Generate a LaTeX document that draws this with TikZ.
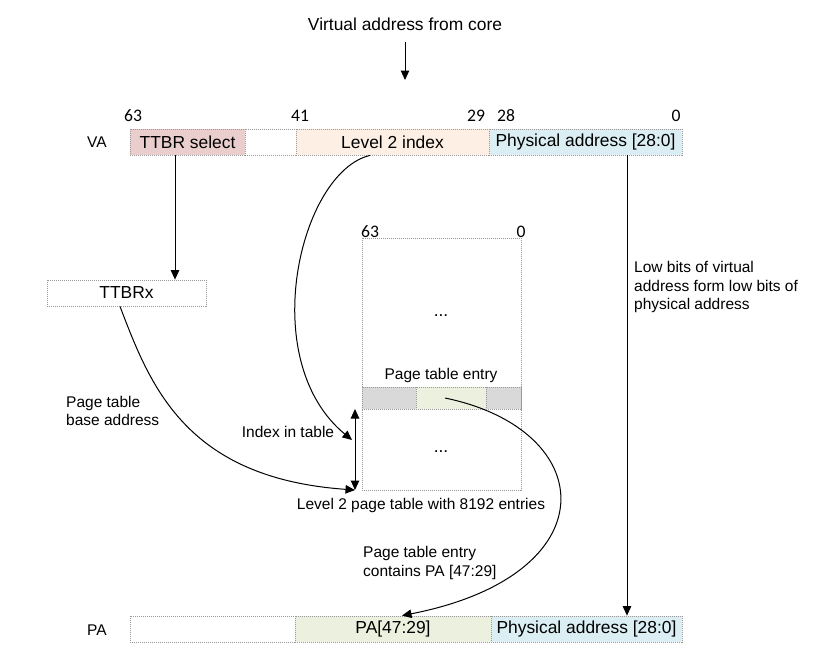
\documentclass[tikz,border=0pt]{standalone}
\usepackage{fontspec}
\setmainfont{Liberation Sans}
\newfontfamily\digitfont{Carlito}
\usetikzlibrary{arrows.meta}
\definecolor{ttbrcol}{HTML}{EACDCD}
\definecolor{idxcol}{HTML}{FDEFE4}
\definecolor{physcol}{HTML}{DAEEF3}
\definecolor{pacol}{HTML}{EBF1DE}
\definecolor{greycol}{HTML}{D9D9D9}
\tikzset{
  cell/.style={draw=gray!80, line width=0.8pt, dash pattern=on 1pt off 1pt,
    inner sep=0pt, minimum height=#1, font=\fontsize{17.4}{20}\selectfont},
  cell/.default=26pt,
  lbl/.style={inner sep=0pt, font=\fontsize{15.5}{18.8}\selectfont, align=left},
  biglbl/.style={inner sep=0pt, font=\fontsize{17.4}{20}\selectfont},
  num/.style={inner sep=0pt, font=\digitfont\fontsize{17.6}{20}\selectfont},
  conn/.style={line width=1pt, -{Triangle[length=9.5pt,width=8.5pt]}},
  conn2/.style={line width=1pt, {Triangle[length=9.5pt,width=8.5pt]}-{Triangle[length=9.5pt,width=8.5pt]}},
}
\begin{document}
\begin{tikzpicture}[x=1pt,y=-1pt]
\useasboundingbox (0,0) rectangle (820,659);
% helper columns
\coordinate (x175) at (175,0);
\coordinate (x370) at (370,0);
\coordinate (x120) at (120,0);
\coordinate (x627) at (627,0);
\coordinate (x402) at (402,0);
% title
\node[biglbl] (title) at (405,24) {Virtual address from core};
\coordinate (titlearr) at (405,42);
\coordinate (titleend) at (405,80);
\draw[conn] (titlearr) -- (titleend);
% VA bar
\node[lbl] (valbl) at (97,142) {VA};
\node[cell, fill=ttbrcol, minimum width=115pt] (ttbrsel) at (187.5,142) {TTBR select};
\node[cell, minimum width=51pt] (vablank) at (270.5,142) {};
\node[cell, fill=idxcol, minimum width=193pt] (l2idx) at (392.5,142) {Level 2 index};
\node[cell, fill=physcol, minimum width=193pt] (vaphys) at (585.5,142) {Physical address [28:0]};
\node[num] (n63) at (133,116) {63};
\node[num] (n41) at (300,116) {41};
\node[num] (n29) at (476,116) {29};
\node[num] (n28) at (506,116) {28};
\node[num] (n0) at (676,116) {0};
% TTBRx
\node[cell, minimum width=159pt] (ttbrx) at (126.5,293) {TTBRx};
\draw[conn] (ttbrsel.south -| x175) -- (ttbrx.north -| x175);
% page table
\node[cell, minimum width=159pt, minimum height=252pt] (table) at (441.5,364) {};
\node[num] (t63) at (370,232) {63};
\node[num] (t0) at (521,232) {0};
\node[biglbl] (dots1) at (441,316) {...};
\node[biglbl] (dots2) at (441,452) {...};
\node[lbl] (ptelbl) at (441,375) {Page table entry};
\node[cell=22pt, fill=greycol, minimum width=54pt] (pteL) at (389,398) {};
\node[cell=22pt, fill=pacol, minimum width=70pt] (pteM) at (451,398) {};
\node[cell=22pt, fill=greycol, minimum width=35pt] (pteR) at (503.5,398) {};
\node[lbl] (l2lbl) at (421,505) {Level 2 page table with 8192 entries};
% index arrow
\coordinate (idxtop) at (355,409);
\coordinate (idxbot) at (355,490);
\draw[conn2] (idxtop) -- (idxbot);
\node[lbl] (idxlbl) at (288,432) {Index in table};
\coordinate (idxtip) at (352,440);
\draw[conn] (l2idx.south -| x370) .. controls (300,172) and (255,360) .. (idxtip);
% base address
\node[lbl, anchor=west] (baselbl) at (66,411) {Page table\\base address};
\draw[conn] (ttbrx.south -| x120) .. controls (150,385) and (185,478) .. (idxbot);
% low bits
\node[lbl, anchor=west] (lowlbl) at (634,287) {Low bits of virtual\\address form low bits of\\physical address};
% PA bar
\node[lbl] (palbl) at (97,630) {PA};
\node[cell, minimum width=165pt] (pablank) at (212.5,629) {};
\node[cell, fill=pacol, minimum width=196pt] (pahi) at (393,629) {PA[47:29]};
\node[cell, fill=physcol, minimum width=191pt] (paphys) at (586.5,629) {Physical address [28:0]};
\draw[conn] (vaphys.south -| x627) -- (paphys.north -| x627);
% entry to PA
\node[lbl, anchor=west] (ctlbl) at (363,563) {Page table entry\\contains PA [47:29]};
\draw[conn] ([xshift=-6pt]pteM.center) .. controls (600,430) and (610,575) .. (pahi.north -| x402);
\end{tikzpicture}
\end{document}
